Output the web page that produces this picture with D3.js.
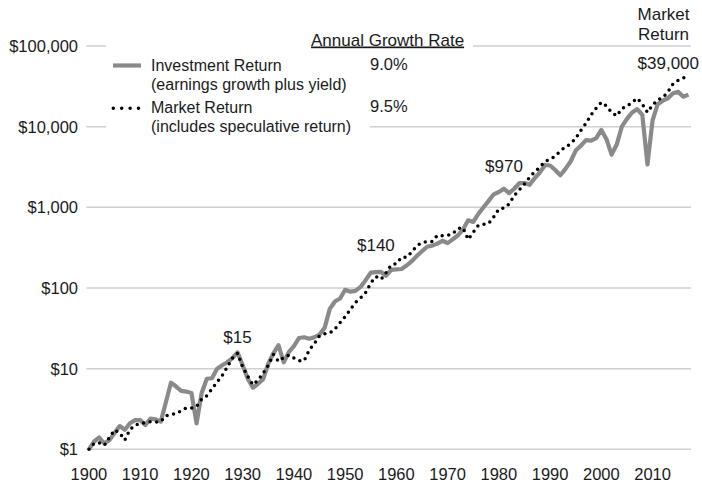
<!DOCTYPE html>
<html>
<head>
<meta charset="utf-8">
<script src="https://cdn.jsdelivr.net/npm/d3@7"></script>
<style>
    body { margin: 0; background: #fff; }
    text { font-family: "Liberation Sans", Arial, Helvetica, sans-serif; fill: #1a1a1a; }
</style>
</head>
<body>
<div id="chart"></div>
<script>
// Years 1900..2017
const years = d3.range(1900, 2018);

// Investment Return (earnings growth plus yield), $ value of $1 invested in 1900
const investment = [
    1.0, 1.25, 1.4, 1.18, 1.3, 1.6, 1.94, 1.75, 2.1, 2.3,          // 1900s
    2.3, 2.0, 2.4, 2.35, 2.2, 3.8, 6.7, 6.0, 5.3, 5.2,             // 1910s
    5.0, 2.1, 5.0, 7.5, 7.6, 10.0, 11.0, 12.0, 13.5, 15.9,         // 1920s
    11.0, 7.5, 5.8, 6.5, 7.4, 11.5, 15.5, 19.5, 12.0, 16.0,        // 1930s
    19.0, 24.0, 24.5, 23.5, 24.5, 26.5, 32, 55, 68, 74,            // 1940s
    95, 90, 92, 103, 125, 155, 157, 158, 142, 168,                 // 1950s
    170, 172, 190, 215, 250, 285, 325, 335, 355, 385,              // 1960s
    360, 400, 450, 530, 690, 660, 830, 1000, 1200, 1450,           // 1970s
    1550, 1700, 1500, 1700, 2000, 2000, 1900, 2300, 2700, 3350,    // 1980s
    3300, 2900, 2500, 3000, 3700, 5050, 5800, 6800, 6700, 7200,    // 1990s
    9100, 7000, 4500, 6000, 10000, 12500, 15000, 16500, 14000, 3400, // 2000s
    12000, 19000, 21000, 22500, 26000, 27000, 23500, 25000         // 2010s
];

// Market Return (includes speculative return)
const market = [
    1.0, 1.18, 1.2, 1.12, 1.4, 1.74, 1.6, 1.3, 1.75, 2.0,          // 1900s
    2.06, 2.15, 2.2, 2.18, 2.2, 2.6, 2.72, 2.74, 3.0, 3.25,        // 1910s
    3.25, 3.4, 4.2, 4.6, 5.6, 6.8, 8.2, 10.5, 13.5, 15.5,          // 1920s
    10.5, 8.0, 6.3, 7.2, 8.8, 11.0, 15.0, 12.3, 13.7, 14.7,        // 1930s
    13.5, 12.5, 12.5, 17, 20.5, 25.5, 27, 27.5, 31, 37,            // 1940s
    44, 54, 66, 75, 88, 115, 138, 128, 155, 194,                   // 1950s
    200, 240, 240, 280, 335, 365, 375, 378, 450, 445,              // 1960s
    450, 470, 545, 560, 400, 490, 600, 615, 630, 760,              // 1970s
    950, 980, 1100, 1400, 1650, 1950, 2350, 2750, 3150, 3700,      // 1980s
    3950, 4300, 5000, 5600, 6100, 7200, 9000, 11000, 14000, 17000, // 1990s
    20000, 18000, 15000, 13600, 16800, 18000, 20000, 22500, 19000, 15000, // 2000s
    18500, 21500, 23000, 27000, 34000, 37500, 40000, 44000         // 2010s
];

const yTicks = [1, 10, 100, 1000, 10000, 100000];
const xTicks = [1900, 1910, 1920, 1930, 1940, 1950, 1960, 1970, 1980, 1990, 2000, 2010];

const seriesNames = ["Investment Return", "Market Return"];
const seriesNotes = ["(earnings growth plus yield)", "(includes speculative return)"];
const growthRates = ["9.0%", "9.5%"];

const annotations = [
    { year: 1929, value: 15.9, label: "$15" },
    { year: 1956, value: 155, label: "$140" },
    { year: 1981, value: 1700, label: "$970" }
];

const width = 702, height = 484;

const svg = d3.select("#chart")
    .append("svg")
    .attr("width", width)
    .attr("height", height);

const x = d3.scaleLinear()
    .domain([1899.5, 2017.5])
    .range([86.4, 691]);

const y = d3.scaleLog()
    .domain([1, 100000])
    .range([449.3, 46]);

const fmt = d3.format("$,");

// Gridlines
svg.append("g")
    .selectAll("line")
    .data(yTicks)
    .join("line")
    .attr("x1", x.range()[0])
    .attr("x2", x.range()[1])
    .attr("y1", d => y(d))
    .attr("y2", d => y(d))
    .attr("stroke", "#cfcfcf")
    .attr("stroke-width", 1.5);

// Y axis labels
svg.append("g")
    .selectAll("text")
    .data(yTicks)
    .join("text")
    .attr("x", 78)
    .attr("y", d => y(d))
    .attr("dy", "0.36em")
    .attr("text-anchor", "end")
    .style("font-size", "16.5px")
    .text(d => fmt(d));

// X axis labels
svg.append("g")
    .selectAll("text")
    .data(xTicks)
    .join("text")
    .attr("x", d => x(d))
    .attr("y", 480)
    .attr("text-anchor", "middle")
    .style("font-size", "16.5px")
    .text(d => d);

// White boxes behind legend and title (they cover the gridlines)
svg.append("rect")
    .attr("x", 106).attr("y", 28).attr("width", 367).attr("height", 28)
    .attr("fill", "#fff");
svg.append("rect")
    .attr("x", 106).attr("y", 56).attr("width", 264).attr("height", 84)
    .attr("fill", "#fff");

// Lines
const line = d3.line()
    .x((d, i) => x(years[i]))
    .y(d => y(d));

svg.append("path")
    .datum(investment)
    .attr("fill", "none")
    .attr("stroke", "#8a8a8a")
    .attr("stroke-width", 4.2)
    .attr("stroke-linejoin", "round")
    .attr("d", line);

svg.append("path")
    .datum(market)
    .attr("fill", "none")
    .attr("stroke", "#000")
    .attr("stroke-width", 3.5)
    .attr("stroke-linecap", "round")
    .attr("stroke-dasharray", "0 6.6")
    .attr("d", line);

// Legend
const legend = svg.append("g");
legend.append("line")
    .attr("x1", 113).attr("x2", 141).attr("y1", 65.5).attr("y2", 65.5)
    .attr("stroke", "#8a8a8a").attr("stroke-width", 4.2);
legend.append("line")
    .attr("x1", 113.3).attr("x2", 140).attr("y1", 108.3).attr("y2", 108.3)
    .attr("stroke", "#000").attr("stroke-width", 3.5)
    .attr("stroke-linecap", "round").attr("stroke-dasharray", "0 8.4");

const legendRows = [71, 113];
seriesNames.forEach((name, i) => {
    legend.append("text")
        .attr("x", 151).attr("y", legendRows[i])
        .style("font-size", "16px")
        .text(name);
    legend.append("text")
        .attr("x", 151).attr("y", legendRows[i] + 19)
        .style("font-size", "16px")
        .text(seriesNotes[i]);
    legend.append("text")
        .attr("x", 370).attr("y", legendRows[i] - 1.5)
        .style("font-size", "16.5px")
        .text(growthRates[i]);
});

// Title over the growth rates
svg.append("text")
    .attr("x", 311).attr("y", 45.5)
    .style("font-size", "17px")
    .style("text-decoration", "underline")
    .text("Annual Growth Rate");

// Top-right label
svg.append("text")
    .attr("x", 663.5).attr("y", 19.5)
    .attr("text-anchor", "middle")
    .style("font-size", "17px")
    .text("Market");
svg.append("text")
    .attr("x", 663.5).attr("y", 40)
    .attr("text-anchor", "middle")
    .style("font-size", "17px")
    .text("Return");
svg.append("text")
    .attr("x", 699).attr("y", 69.3)
    .attr("text-anchor", "end")
    .style("font-size", "17px")
    .text("$39,000");

// Value annotations
const annoOffsets = [9, 22, 17];
svg.append("g")
    .selectAll("text")
    .data(annotations)
    .join("text")
    .attr("x", d => x(d.year))
    .attr("y", (d, i) => y(d.value) - annoOffsets[i])
    .attr("text-anchor", "middle")
    .style("font-size", "17px")
    .text(d => d.label);
</script>
</body>
</html>
